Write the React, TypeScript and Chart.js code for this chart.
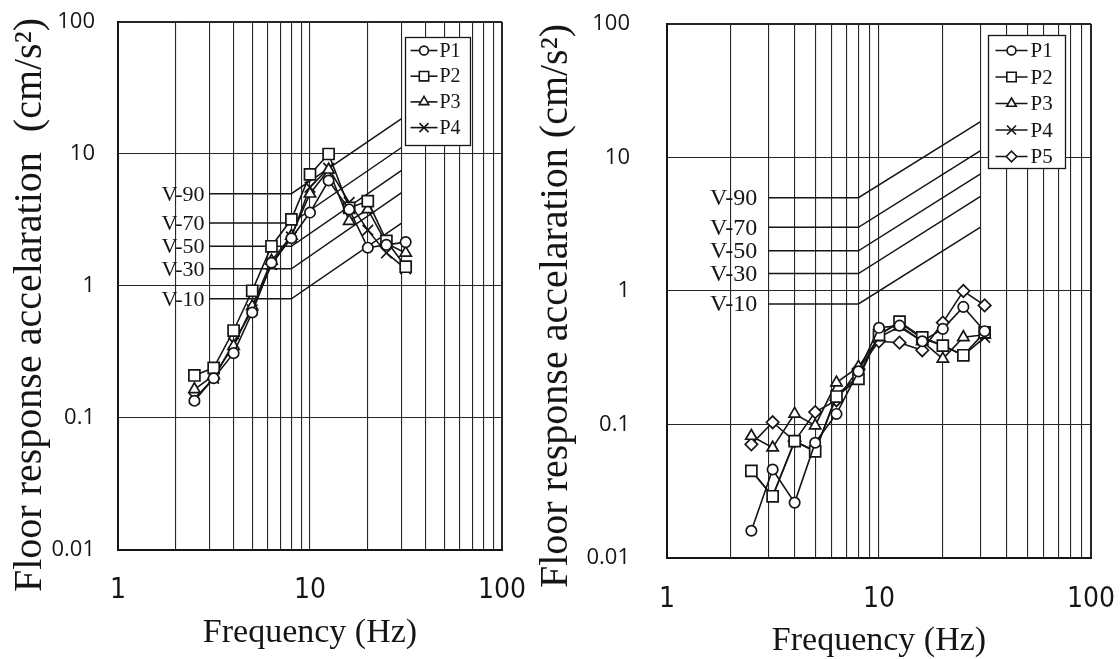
import React, { useEffect, useRef } from 'react';
import { Chart, registerables } from 'chart.js';

Chart.register(...registerables);

// ---------------- data ----------------
const FREQ = [2.5, 3.15, 4, 5, 6.3, 8, 10, 12.5, 16, 20, 25, 31.5];

// left panel (P1..P4)
const L_P1 = [0.135, 0.2, 0.31, 0.63, 1.5, 2.3, 3.6, 6.3, 3.8, 1.95, 2.05, 2.15];
const L_P2 = [0.21, 0.24, 0.46, 0.92, 2.0, 3.2, 7.0, 10.0, 3.9, 4.4, 2.2, 1.4];
const L_P3 = [0.165, 0.21, 0.35, 0.7, 1.55, 2.4, 5.0, 7.6, 3.1, 3.8, 2.1, 1.78];
const L_P4 = [0.14, 0.2, 0.37, 0.66, 1.45, 2.35, 5.6, 7.8, 4.3, 2.65, 1.78, 1.35];

// right panel (P1..P5)
const R_P1 = [0.016, 0.046, 0.026, 0.073, 0.12, 0.25, 0.53, 0.55, 0.42, 0.52, 0.76, 0.5];
const R_P2 = [0.045, 0.029, 0.075, 0.063, 0.162, 0.22, 0.47, 0.59, 0.45, 0.39, 0.33, 0.49];
const R_P3 = [0.082, 0.067, 0.12, 0.098, 0.206, 0.27, 0.45, 0.54, 0.42, 0.31, 0.45, 0.47];
const R_P4 = [0.045, 0.029, 0.075, 0.063, 0.165, 0.23, 0.47, 0.58, 0.44, 0.39, 0.33, 0.45];
const R_P5 = [0.071, 0.104, 0.075, 0.124, 0.152, 0.26, 0.42, 0.41, 0.36, 0.58, 1.0, 0.78];

// habitability reference curves
const V_LABELS = ['V-10', 'V-30', 'V-50', 'V-70', 'V-90'];
const V_FREQ = [3, 8, 30];
const V_FLAT = [0.8, 1.35, 2, 3, 5];
const V_END = [3.0, 5.1, 7.5, 11.2, 18.5];

const SERIES_NAMES = ['P1', 'P2', 'P3', 'P4', 'P5'];
const X_TICKS = [1, 2, 3, 4, 5, 6, 7, 8, 9, 10, 20, 30, 40, 50, 60, 70, 80, 90, 100];
const X_LABELS = ['1', '10', '100'];
const Y_TICKS = [0.01, 0.1, 1, 10, 100];

const X_TITLE = 'Frequency (Hz)';

// ---------------- styles ----------------
const POINT_STYLES = ['circle', 'rect', 'triangle', 'crossRot', 'rectRot'];
const POINT_RADII = [5.2, 7.8, 6.5, 7.5, 6.2];
const SERIF = '"Liberation Serif", "Times New Roman", serif';
const SANS = '"Open Sans", "Liberation Sans", sans-serif';
const NARROW = '"Liberation Sans Narrow", "DejaVu Sans Condensed", sans-serif';
const INK = '#151515';

function drawMarker(ctx: CanvasRenderingContext2D, style: string, x: number, y: number, r: number) {
  ctx.beginPath();
  if (style === 'circle') {
    ctx.arc(x, y, r, 0, Math.PI * 2);
    ctx.closePath();
  } else if (style === 'rect') {
    const s = r * Math.SQRT1_2;
    ctx.rect(x - s, y - s, 2 * s, 2 * s);
  } else if (style === 'triangle') {
    let a = 0;
    ctx.moveTo(x + Math.sin(a) * r, y - Math.cos(a) * r);
    a += (2 * Math.PI) / 3;
    ctx.lineTo(x + Math.sin(a) * r, y - Math.cos(a) * r);
    a += (2 * Math.PI) / 3;
    ctx.lineTo(x + Math.sin(a) * r, y - Math.cos(a) * r);
    ctx.closePath();
  } else if (style === 'rectRot') {
    ctx.moveTo(x - r, y);
    ctx.lineTo(x, y - r);
    ctx.lineTo(x + r, y);
    ctx.lineTo(x, y + r);
    ctx.closePath();
  } else if (style === 'crossRot') {
    const o = r * Math.SQRT1_2;
    ctx.moveTo(x - o, y - o);
    ctx.lineTo(x + o, y + o);
    ctx.moveTo(x + o, y - o);
    ctx.lineTo(x - o, y + o);
  }
  if (style !== 'crossRot') ctx.fill();
  ctx.stroke();
}

type Spec = {
  left: number;
  width: number;
  padTop: number;
  padRight: number;
  yW: number;
  xH: number;
  yTickPad: number;
  yTickSize: number;
  xTickPad: number;
  xTickSize: number;
  xTitlePad: number;
  xTitleSize: number;
  yTitle: string;
  yTitleX: number;
  yTitleY: number;
  yTitleSize: number;
  vGap: number;
  vFont: number;
  series: number[][];
  legend: { dx: number; dy: number; w: number; h: number; row0: number; rowH: number; x0: number; x1: number; tx: number; font: number };
};

function makeDecor(spec: Spec) {
  return {
    id: 'decor',
    afterDraw(chart: any) {
      const { ctx, chartArea, scales } = chart;
      const xs = scales.x;
      const ys = scales.y;
      ctx.save();
      // reference curve labels
      ctx.fillStyle = INK;
      ctx.font = `${spec.vFont}px ${SERIF}`;
      ctx.textAlign = 'right';
      ctx.textBaseline = 'middle';
      V_LABELS.forEach((t, i) => {
        ctx.fillText(t, xs.getPixelForValue(V_FREQ[0]) - spec.vGap, ys.getPixelForValue(V_FLAT[i]) + 1);
      });
      // legend
      const L = spec.legend;
      const bx = Math.round(chartArea.right + L.dx) + 0.5;
      const by = Math.round(chartArea.top + L.dy) + 0.5;
      ctx.fillStyle = '#ffffff';
      ctx.fillRect(bx, by, L.w, L.h);
      ctx.strokeStyle = INK;
      ctx.lineWidth = 1.3;
      ctx.strokeRect(bx, by, L.w, L.h);
      spec.series.forEach((_, i) => {
        const yy = by + L.row0 + i * L.rowH;
        ctx.beginPath();
        ctx.moveTo(bx + L.x0, yy);
        ctx.lineTo(bx + L.x1, yy);
        ctx.lineWidth = 1.6;
        ctx.strokeStyle = INK;
        ctx.stroke();
        ctx.fillStyle = '#ffffff';
        drawMarker(ctx, POINT_STYLES[i], bx + (L.x0 + L.x1) / 2, yy, POINT_RADII[i] * 0.85);
        ctx.fillStyle = INK;
        ctx.font = `${L.font}px ${SERIF}`;
        ctx.textAlign = 'left';
        ctx.textBaseline = 'middle';
        ctx.fillText(SERIES_NAMES[i], bx + L.tx, yy + 1);
      });
      // y-axis title
      ctx.translate(spec.yTitleX, spec.yTitleY);
      ctx.rotate(-Math.PI / 2);
      ctx.fillStyle = INK;
      ctx.font = `${spec.yTitleSize}px ${SERIF}`;
      ctx.textAlign = 'center';
      ctx.textBaseline = 'middle';
      ctx.fillText(spec.yTitle, 0, 0);
      ctx.restore();
    },
  };
}

function zeroPad(s: any) {
  s.paddingTop = 0;
  s.paddingBottom = 0;
  s.paddingLeft = 0;
  s.paddingRight = 0;
}

function buildConfig(spec: Spec): any {
  const datasets: any[] = [];
  spec.series.forEach((vals, i) => {
    datasets.push({
      label: SERIES_NAMES[i],
      data: FREQ.map((f, j) => ({ x: f, y: vals[j] })),
      borderColor: INK,
      borderWidth: 1.6,
      pointStyle: POINT_STYLES[i],
      pointRadius: POINT_RADII[i],
      pointBackgroundColor: '#ffffff',
      pointBorderColor: INK,
      pointBorderWidth: 1.7,
      tension: 0,
      fill: false,
    });
  });
  V_FLAT.forEach((v, i) => {
    datasets.push({
      label: V_LABELS[i],
      data: [
        { x: V_FREQ[0], y: v },
        { x: V_FREQ[1], y: v },
        { x: V_FREQ[2], y: V_END[i] },
      ],
      borderColor: INK,
      borderWidth: 1.5,
      pointRadius: 0,
      tension: 0,
      fill: false,
    });
  });

  const edgeWidth = (n: number) => (c: any) => (c.index === 0 || c.index === n - 1 ? 2 : 1.1);

  return {
    type: 'line',
    data: { datasets },
    plugins: [makeDecor(spec)],
    options: {
      animation: false,
      responsive: false,
      events: [],
      layout: { padding: { top: spec.padTop, right: spec.padRight, left: 0, bottom: 0 } },
      plugins: { legend: { display: false }, tooltip: { enabled: false } },
      scales: {
        x: {
          type: 'logarithmic',
          min: 1,
          max: 100,
          afterBuildTicks: (s: any) => {
            s.ticks = X_TICKS.map((v) => ({ value: v }));
          },
          afterFit: (s: any) => {
            s.height = spec.xH;
            zeroPad(s);
          },
          ticks: {
            autoSkip: false,
            maxRotation: 0,
            minRotation: 0,
            padding: spec.xTickPad,
            color: INK,
            font: { family: NARROW, size: spec.xTickSize },
            callback: (v: any) => (X_LABELS.includes(String(v)) ? String(v) : ''),
          },
          grid: { color: '#262626', lineWidth: edgeWidth(X_TICKS.length), drawTicks: false },
          border: { display: true, color: INK, width: 2 },
          title: {
            display: true,
            text: X_TITLE,
            color: INK,
            font: { family: SERIF, size: spec.xTitleSize },
            padding: { top: 0, bottom: spec.xTitlePad },
          },
        },
        y: {
          type: 'logarithmic',
          min: 0.01,
          max: 100,
          afterBuildTicks: (s: any) => {
            s.ticks = Y_TICKS.map((v) => ({ value: v }));
          },
          afterFit: (s: any) => {
            s.width = spec.yW;
            zeroPad(s);
          },
          ticks: {
            autoSkip: false,
            padding: spec.yTickPad,
            color: INK,
            font: { family: SANS, size: spec.yTickSize },
            callback: (v: any) => String(v),
          },
          grid: { color: '#262626', lineWidth: edgeWidth(Y_TICKS.length), drawTicks: false },
          border: { display: true, color: INK, width: 2 },
          title: { display: false },
        },
      },
    },
  };
}

const LEFT_SPEC: Spec = {
  left: 0,
  width: 550,
  padTop: 22,
  padRight: 48,
  yW: 118,
  xH: 109,
  yTickPad: 23,
  yTickSize: 22,
  xTickPad: 24,
  xTickSize: 28,
  xTitlePad: 6,
  xTitleSize: 34,
  yTitle: 'Floor response accelaration  (cm/s²)',
  yTitleX: 30,
  yTitleY: 305,
  yTitleSize: 40,
  vGap: 5,
  vFont: 22,
  series: [L_P1, L_P2, L_P3, L_P4],
  legend: { dx: -97, dy: 15, w: 65, h: 108, row0: 13, rowH: 25.7, x0: 5, x1: 32, tx: 34, font: 20 },
};

const RIGHT_SPEC: Spec = {
  left: 520,
  width: 600,
  padTop: 24,
  padRight: 29,
  yW: 147,
  xH: 101,
  yTickPad: 37,
  yTickSize: 22,
  xTickPad: 25,
  xTickSize: 28,
  xTitlePad: -2,
  xTitleSize: 34,
  yTitle: 'Floor response accelaration (cm/s²)',
  yTitleX: 36,
  yTitleY: 306,
  yTitleSize: 40,
  vGap: 11,
  vFont: 24,
  series: [R_P1, R_P2, R_P3, R_P4, R_P5],
  legend: { dx: -103, dy: 11, w: 77, h: 133, row0: 15, rowH: 26.5, x0: 7, x1: 39, tx: 42, font: 21 },
};

function Panel({ spec }: { spec: Spec }) {
  const ref = useRef<HTMLCanvasElement>(null);
  useEffect(() => {
    if (!ref.current) return;
    const chart = new Chart(ref.current, buildConfig(spec));
    return () => chart.destroy();
  }, [spec]);
  return (
    <canvas
      ref={ref}
      width={spec.width}
      height={659}
      style={{ position: 'absolute', left: spec.left, top: 0, width: spec.width, height: 659 }}
    />
  );
}

export default function App() {
  return (
    <div style={{ position: 'fixed', left: 0, top: 0, width: 1120, height: 659, background: '#ffffff', overflow: 'hidden' }}>
      <Panel spec={LEFT_SPEC} />
      <Panel spec={RIGHT_SPEC} />
    </div>
  );
}
